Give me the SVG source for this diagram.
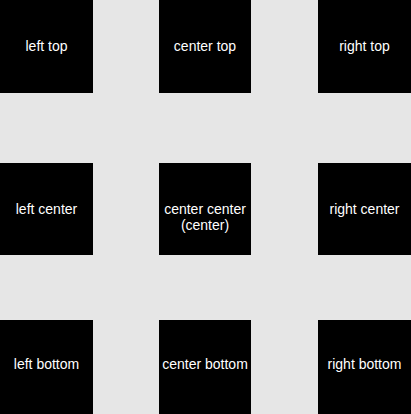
<svg xmlns="http://www.w3.org/2000/svg" width="411" height="414" viewBox="0 0 411 414">
<style>
.box{fill:#000}
.t{fill:#fff;font-family:"Liberation Sans",Arial,sans-serif;font-size:14px;text-anchor:middle}
</style>
<rect x="0" y="0" width="411" height="414" fill="#e6e6e6"/>
<g id="left-top"><rect class="box" x="0" y="0" width="93" height="93"/><text class="t" x="46.5" y="51">left top</text></g>
<g id="center-top"><rect class="box" x="159" y="0" width="92" height="93"/><text class="t" x="205" y="51">center top</text></g>
<g id="right-top"><rect class="box" x="318" y="0" width="93" height="93"/><text class="t" x="364.5" y="51">right top</text></g>
<g id="left-center"><rect class="box" x="0" y="163" width="93" height="92"/><text class="t" x="46.5" y="214">left center</text></g>
<g id="center-center"><rect class="box" x="159" y="163" width="92" height="92"/><text class="t" x="205" y="214">center center</text><text class="t" x="205" y="230">(center)</text></g>
<g id="right-center"><rect class="box" x="318" y="163" width="93" height="92"/><text class="t" x="364.5" y="214">right center</text></g>
<g id="left-bottom"><rect class="box" x="0" y="320" width="93" height="94"/><text class="t" x="46.5" y="369">left bottom</text></g>
<g id="center-bottom"><rect class="box" x="159" y="320" width="92" height="94"/><text class="t" x="205" y="369">center bottom</text></g>
<g id="right-bottom"><rect class="box" x="318" y="320" width="93" height="94"/><text class="t" x="364.5" y="369">right bottom</text></g>
<g id="connectors"></g>
</svg>
